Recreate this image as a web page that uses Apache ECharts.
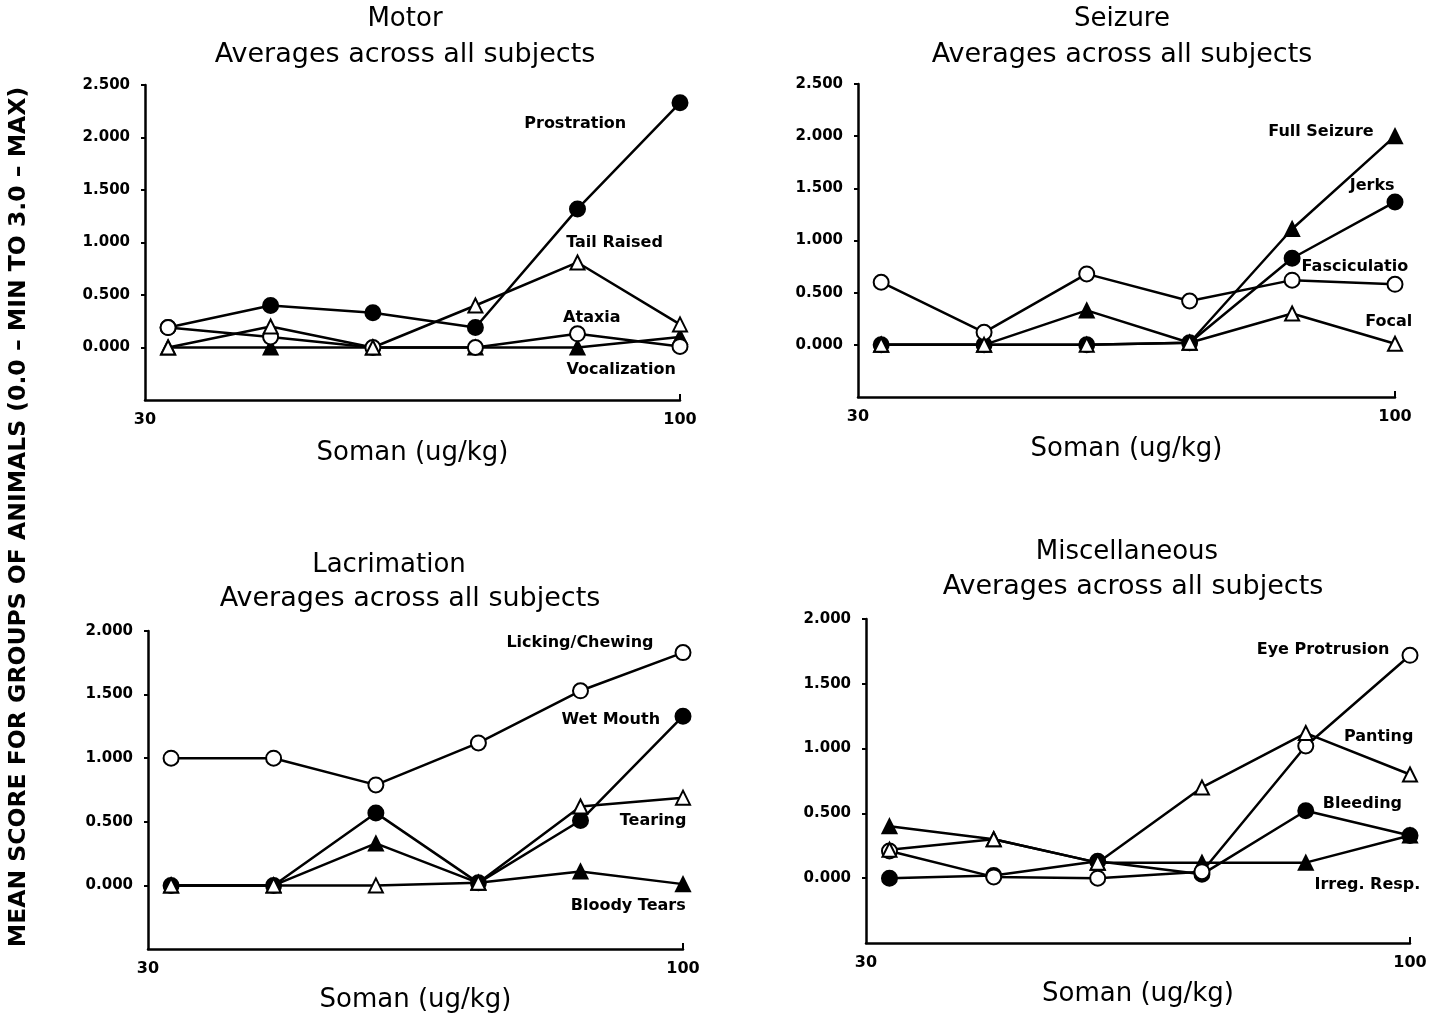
<!DOCTYPE html>
<html><head><meta charset="utf-8">
<script src="https://cdn.jsdelivr.net/npm/echarts@6/dist/echarts.min.js"></script>
<style>html,body{margin:0;padding:0;background:#fff}#c{width:1445px;height:1014px}</style>
</head><body><div id="c"></div>
<script>
// ---- data ----
const doses = [31.6, 39.8, 50.1, 63.1, 79.4, 100];
const xTickValues = [30, 100];
const yTicksTall = [0, 0.5, 1.0, 1.5, 2.0, 2.5];
const yTicksShort = [0, 0.5, 1.0, 1.5, 2.0];

// Motor
const prostration  = [0.19, 0.40, 0.33, 0.19, 1.32, 2.33];
const tailRaised   = [0.00, 0.20, 0.00, 0.40, 0.81, 0.22];
const ataxia       = [0.19, 0.10, 0.00, 0.00, 0.13, 0.01];
const vocalization = [0.00, 0.00, 0.00, 0.00, 0.00, 0.10];
// Seizure
const fullSeizure  = [0.00, 0.00, 0.33, 0.02, 1.11, 2.00];
const jerks        = [0.00, 0.00, 0.00, 0.02, 0.83, 1.37];
const fasciculatio = [0.60, 0.12, 0.68, 0.42, 0.62, 0.58];
const focal        = [0.00, 0.00, 0.00, 0.02, 0.30, 0.01];
// Lacrimation
const lickingChewing = [1.00, 1.00, 0.79, 1.12, 1.53, 1.83];
const wetMouth       = [0.00, 0.00, 0.57, 0.02, 0.51, 1.33];
const tearing        = [0.00, 0.00, 0.00, 0.02, 0.62, 0.69];
const bloodyTears    = [0.00, 0.00, 0.33, 0.02, 0.11, 0.01];
// Miscellaneous
const eyeProtrusion = [0.21, 0.01, 0.00, 0.05, 1.02, 1.72];
const panting       = [0.22, 0.30, 0.12, 0.70, 1.12, 0.80];
const bleeding      = [0.00, 0.02, 0.13, 0.03, 0.52, 0.33];
const irregResp     = [0.40, 0.30, 0.12, 0.12, 0.12, 0.33];

const panelTitles = ['Motor', 'Seizure', 'Lacrimation', 'Miscellaneous'];
const subTitle = 'Averages across all subjects';
const xName = 'Soman (ug/kg)';
const yTitle = 'MEAN SCORE FOR GROUPS OF ANIMALS (0.0 \u2013 MIN TO 3.0 \u2013 MAX)';
const yMax = [2.5, 2.5, 2.0, 2.0];
const yTicks = [yTicksTall, yTicksTall, yTicksShort, yTicksShort];

// ---- layout ----
const FONT = 'DejaVu Sans';
const grids = [
  {left: 145, top: 85,  width: 535, height: 315},
  {left: 858, top: 84,  width: 537, height: 313},
  {left: 148, top: 631, width: 535, height: 319},
  {left: 866, top: 619, width: 544, height: 324}
];
const titlePos = [
  {t: [405, 6],   s: [405, 41]},
  {t: [1122, 6],  s: [1122, 41]},
  {t: [389, 552], s: [410, 585]},
  {t: [1127, 539], s: [1133, 573]}
];
const nameGaps = [40, 39, 38, 38];

const styles = {
  fc: {symbol: 'circle', size: 15, fill: '#000'},
  oc: {symbol: 'circle', size: 15, fill: '#fff'},
  ft: {symbol: 'triangle', size: 14, fill: '#000'},
  ot: {symbol: 'triangle', size: 14, fill: '#fff'}
};

function mk(gi, name, values, kind, labelCoord) {
  const st = styles[kind];
  return {
    type: 'line', name: name,
    xAxisIndex: gi, yAxisIndex: gi,
    data: doses.map((d, i) => [d, values[i]]),
    symbol: st.symbol, symbolSize: st.size, showSymbol: true,
    lineStyle: {color: '#000', width: 2.5},
    itemStyle: {color: st.fill, borderColor: '#000', borderWidth: 2},
    z: st.fill === '#fff' ? 3 : 2,
    markPoint: {
      symbol: 'circle', symbolSize: 0, silent: true,
      label: {show: true, position: 'inside', formatter: name, color: '#000',
              fontFamily: FONT, fontWeight: 'bold', fontSize: 16},
      data: [{coord: labelCoord, name: name}]
    }
  };
}

const series = [
  mk(0, 'Prostration', prostration, 'fc', [79, 2.13]),
  mk(0, 'Vocalization', vocalization, 'ft', [87.6, -0.21]),
  mk(0, 'Ataxia', ataxia, 'oc', [82, 0.28]),
  mk(0, 'Tail Raised', tailRaised, 'ot', [86.3, 1.0]),

  mk(1, 'Full Seizure', fullSeizure, 'ft', [84.7, 2.04]),
  mk(1, 'Jerks', jerks, 'fc', [95, 1.52]),
  mk(1, 'Fasciculatio', fasciculatio, 'oc', [91.4, 0.75]),
  mk(1, 'Focal', focal, 'ot', [98.6, 0.22]),

  mk(2, 'Wet Mouth', wetMouth, 'fc', [85, 1.30]),
  mk(2, 'Bloody Tears', bloodyTears, 'ft', [88.4, -0.16]),
  mk(2, 'Tearing', tearing, 'ot', [93.5, 0.51]),
  mk(2, 'Licking/Chewing', lickingChewing, 'oc', [79.3, 1.91]),

  mk(3, 'Bleeding', bleeding, 'fc', [90, 0.57]),
  mk(3, 'Irreg. Resp.', irregResp, 'ft', [91, -0.05]),
  mk(3, 'Eye Protrusion', eyeProtrusion, 'oc', [82.5, 1.76]),
  mk(3, 'Panting', panting, 'ot', [93.3, 1.09])
];

const titles = [];
panelTitles.forEach((t, i) => {
  titles.push({text: t, left: titlePos[i].t[0], top: titlePos[i].t[1], textAlign: 'center', padding: 0,
    textStyle: {fontFamily: FONT, fontSize: 26, fontWeight: 'normal', color: '#000'}});
  titles.push({text: subTitle, left: titlePos[i].s[0], top: titlePos[i].s[1], textAlign: 'center', padding: 0,
    textStyle: {fontFamily: FONT, fontSize: 27, fontWeight: 'normal', color: '#000'}});
});

const xAxes = grids.map((g, i) => ({
  type: 'log', gridIndex: i, min: 30, max: 100, logBase: 10,
  name: xName, nameLocation: 'middle', nameGap: nameGaps[i],
  nameTextStyle: {fontFamily: FONT, fontSize: 26, color: '#000'},
  axisLine: {show: true, onZero: false, lineStyle: {color: '#000', width: 2.5}},
  axisTick: {show: true, inside: true, length: 6, customValues: [100], lineStyle: {color: '#000', width: 2}},
  axisLabel: {customValues: xTickValues, fontFamily: FONT, fontSize: 16, fontWeight: 'bold', color: '#000', margin: 12,
    formatter: v => String(Math.round(v))},
  splitLine: {show: false}, minorTick: {show: false}, minorSplitLine: {show: false}
}));

const yAxes = grids.map((g, i) => ({
  type: 'value', gridIndex: i, min: -0.5, max: yMax[i], interval: 0.5,
  axisLine: {show: true, onZero: false, lineStyle: {color: '#000', width: 2.5}},
  axisTick: {show: true, length: 4, customValues: yTicks[i], lineStyle: {color: '#000', width: 2}},
  axisLabel: {customValues: yTicks[i], fontFamily: FONT, fontSize: 15, fontWeight: 'bold', color: '#000', margin: 15,
    formatter: v => v < 0 ? '' : v.toFixed(3)},
  splitLine: {show: false}
}));

const chart = echarts.init(document.getElementById('c'), null, {renderer: 'canvas'});
chart.setOption({
  backgroundColor: '#fff',
  animation: false,
  title: titles,
  grid: grids,
  xAxis: xAxes,
  yAxis: yAxes,
  series: series,
  graphic: [{
    type: 'text', x: 19, y: 517, rotation: Math.PI / 2,
    style: {text: yTitle, fontFamily: FONT, fontSize: 23.5, fontWeight: 'bold', fill: '#000',
            align: 'center', verticalAlign: 'middle'}
  }]
});
</script>
</body></html>
